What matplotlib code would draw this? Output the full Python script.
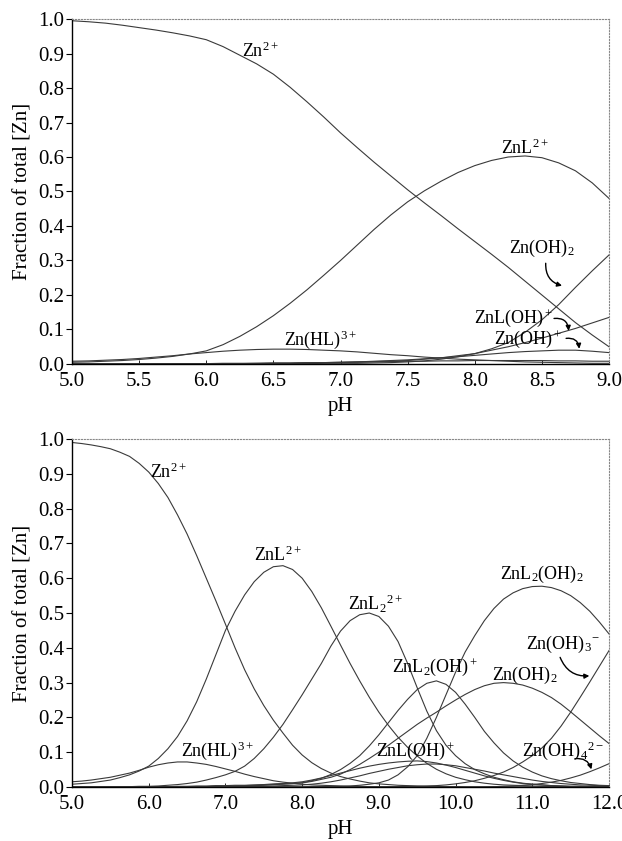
import numpy as np
import matplotlib
matplotlib.use('Agg')
import matplotlib.pyplot as plt

plt.rcParams['font.family'] = ['Liberation Serif', 'DejaVu Serif']
plt.rcParams['mathtext.fontset'] = 'custom'
plt.rcParams['mathtext.rm'] = 'Liberation Serif'
plt.rcParams['mathtext.it'] = 'Liberation Serif:italic'

# ---- top panel: pH 5 - 9, read every 0.125 pH ----
ph_a = np.arange(5.0, 9.001, 0.125)
a_zn = [.995, .992, .988, .982, .975, .968, .960, .951, .940, .920, .895, .870, .840, .802, .760, .716, .670,
        .627, .585, .545, .505, .467, .430, .392, .355, .318, .280, .240, .200, .160, .120, .084, .050]
a_znl = [.005, .006, .008, .010, .013, .017, .022, .029, .038, .056, .080, .108, .140, .176, .215, .257, .300,
         .345, .390, .432, .470, .502, .530, .555, .575, .590, .600, .603, .598, .583, .560, .525, .480]
a_znhl = [.008, .009, .011, .013, .016, .020, .024, .029, .033, .037, .040, .042, .043, .043, .042, .040, .038,
          .035, .031, .027, .024, .020, .017, .014, .012, .010, .008, .006, .005, .004, .003, .002, .002]
a_znoh2 = [0, 0, 0, 0, 0, 0, 0, 0, 0, 0, 0, .001, .001, .001, .001, .002, .002,
           .002, .003, .004, .006, .009, .014, .021, .030, .044, .062, .092, .128, .172, .222, .270, .316]
a_znloh = [0, 0, 0, 0, 0, 0, 0, .001, .001, .001, .001, .002, .002, .002, .003, .004, .005,
           .006, .007, .008, .010, .014, .018, .024, .030, .040, .050, .062, .075, .089, .103, .119, .135]
a_znoh = [0, 0, 0, 0, 0, .001, .001, .001, .001, .002, .002, .002, .003, .003, .004, .004, .005,
          .006, .008, .010, .012, .015, .018, .021, .025, .029, .033, .036, .038, .040, .040, .037, .033]
a_znl2 = [0, 0, 0, 0, 0, 0, 0, 0, 0, .001, .001, .001, .002, .002, .003, .003, .004,
          .005, .006, .007, .008, .008, .009, .009, .010, .010, .010, .010, .010, .009, .009, .008, .008]

# ---- bottom panel: pH 5 - 12, read every 0.125 pH ----
ph_b = np.arange(5.0, 12.001, 0.125)
b_zn = [.990, .987, .983, .978, .972, .962, .950, .930, .905, .872, .832, .782, .727, .665, .600, .535,
        .468, .400, .337, .282, .234, .192, .155, .120, .092, .070, .053, .040, .030, .023, .017, .012,
        .009, .007, .005, .004, .003, .002, .002, .001, .001, 0, 0, 0, 0, 0,
        0, 0, 0, 0, 0, 0, 0, 0, 0, 0, 0]
b_znl = [.008, .010, .012, .016, .020, .027, .035, .046, .060, .082, .110, .145, .190, .245, .310, .380,
         .450, .505, .552, .590, .617, .633, .636, .625, .600, .562, .515, .462, .408, .355, .305, .258,
         .215, .177, .143, .114, .089, .068, .051, .038, .028, .021, .015, .011, .008, .006,
         .005, .004, .003, .002, .002, .001, .001, 0, 0, 0, 0]
b_znhl = [.015, .017, .020, .024, .028, .034, .040, .048, .057, .064, .069, .072, .072, .069, .065, .059,
          .052, .045, .037, .030, .024, .018, .014, .011, .008, .006, .005, .004, .003, .002, .002, .001,
          .001, 0, 0, 0, 0, 0, 0, 0, 0, 0, 0, 0, 0, 0,
          0, 0, 0, 0, 0, 0, 0, 0, 0, 0, 0]
b_znl2 = [0, 0, 0, 0, .001, .001, .001, .002, .002, .003, .005, .007, .010, .014, .020, .027,
          .035, .045, .060, .082, .110, .143, .180, .222, .265, .310, .355, .405, .448, .478, .495, .500,
          .490, .462, .418, .355, .285, .218, .162, .120, .090, .067, .050, .038, .028, .021,
          .015, .011, .008, .006, .004, .003, .002, .002, .001, .001, 0]
b_znl2oh = [0, 0, 0, 0, 0, 0, 0, 0, 0, 0, 0, 0, 0, .001, .001, .002,
            .002, .003, .003, .004, .005, .007, .008, .010, .012, .018, .025, .036, .050, .068, .090, .118,
            .150, .185, .220, .252, .280, .298, .305, .295, .272, .238, .200, .160, .127, .098,
            .075, .057, .043, .032, .024, .018, .013, .010, .007, .005, .004]
b_znl2oh2 = [0, 0, 0, 0, 0, 0, 0, 0, 0, 0, 0, 0, 0, 0, 0, 0,
             0, 0, 0, 0, 0, 0, 0, 0, 0, .001, .001, .002, .002, .003, .005, .008,
             .012, .020, .035, .058, .090, .140, .200, .265, .330, .388, .435, .478, .513, .540,
             .558, .570, .576, .577, .573, .564, .550, .530, .505, .474, .440]
b_znoh2 = [0, 0, 0, 0, 0, 0, 0, 0, 0, 0, 0, 0, 0, .001, .001, .002,
           .002, .003, .004, .005, .006, .007, .009, .010, .012, .016, .022, .028, .037, .050, .065, .082,
           .100, .120, .140, .160, .180, .198, .215, .233, .250, .266, .280, .291, .298, .300,
           .298, .293, .284, .272, .257, .238, .216, .193, .170, .147, .125]
b_znoh3 = [0, 0, 0, 0, 0, 0, 0, 0, 0, 0, 0, 0, 0, 0, 0, 0,
           0, 0, 0, 0, 0, 0, 0, 0, 0, 0, 0, 0, 0, 0, 0, 0,
           0, .001, .001, .002, .002, .003, .004, .006, .009, .013, .018, .025, .033, .043,
           .056, .072, .090, .112, .140, .175, .215, .258, .302, .347, .392]
b_znoh4 = [0, 0, 0, 0, 0, 0, 0, 0, 0, 0, 0, 0, 0, 0, 0, 0,
           0, 0, 0, 0, 0, 0, 0, 0, 0, 0, 0, 0, 0, 0, 0, 0,
           0, 0, 0, 0, 0, 0, 0, 0, 0, 0, 0, 0, .001, .002,
           .003, .005, .007, .010, .014, .019, .026, .034, .044, .055, .067]
b_znloh = [0, 0, 0, 0, 0, 0, 0, 0, 0, .001, .001, .002, .002, .003, .003, .004,
           .004, .005, .005, .006, .007, .009, .010, .012, .015, .020, .026, .033, .040, .047, .054, .060,
           .065, .069, .072, .074, .075, .073, .069, .063, .056, .048, .040, .032, .025, .019,
           .014, .010, .008, .006, .004, .003, .002, .002, .001, .001, 0]
b_znoh = [0, 0, 0, 0, 0, 0, 0, 0, 0, 0, 0, 0, 0, 0, 0, 0,
          0, .001, .001, .002, .002, .003, .004, .005, .006, .008, .011, .015, .020, .026, .032, .039,
          .045, .051, .056, .061, .064, .066, .066, .064, .061, .056, .051, .046, .040, .035,
          .030, .025, .020, .016, .013, .010, .008, .006, .005, .004, .003]

LC = '#3a3a3a'
LW = 0.8
FS = 15
LFS = 13


def style(ax, xmax, xticks):
    ax.set_xlim(5.0, xmax)
    ax.set_ylim(0, 1.0)
    ax.set_xticks(xticks)
    ax.set_xticklabels(['%.1f' % t for t in xticks])
    yt = np.arange(0, 1.01, 0.1)
    ax.set_yticks(yt)
    ax.set_yticklabels(['%.1f' % t for t in yt])
    ax.tick_params(axis='y', direction='out', length=4, width=0.8, pad=1.5, labelsize=FS)
    ax.tick_params(axis='x', direction='in', length=3, width=0.6, pad=6, labelsize=FS)
    for s in ['left', 'bottom']:
        ax.spines[s].set_color('black')
        ax.spines[s].set_linewidth(1.0)
    for s in ['top', 'right']:
        ax.spines[s].set_color('#888888')
        ax.spines[s].set_linewidth(0.8)
        ax.spines[s].set_linestyle(':')
    ax.set_xlabel('pH', fontsize=FS, labelpad=4)
    ax.set_ylabel('Fraction of total [Zn]', fontsize=FS, labelpad=4)


def arrow(ax, xy, xytext, rad):
    ax.annotate('', xy=xy, xytext=xytext,
                arrowprops=dict(arrowstyle='-|>', color='black', lw=1.0,
                                mutation_scale=7,
                                connectionstyle='arc3,rad=%s' % rad))


fig = plt.figure(figsize=(6.22, 8.41), dpi=100)
ax1 = fig.add_axes([0.1158, 0.5672, 0.8633, 0.4102])
ax2 = fig.add_axes([0.1158, 0.0642, 0.8633, 0.4138])

for ys in [a_zn, a_znl, a_znhl, a_znoh2, a_znloh, a_znoh, a_znl2]:
    ax1.plot(ph_a, ys, color=LC, lw=LW)
style(ax1, 9.0, [5.0, 5.5, 6.0, 6.5, 7.0, 7.5, 8.0, 8.5, 9.0])

ax1.text(6.4, 0.905, r'Zn$^{2+}$', fontsize=LFS, ha='center', va='center')
ax1.text(8.37, 0.625, r'ZnL$^{2+}$', fontsize=LFS, ha='center', va='center')
ax1.text(6.85, 0.07, r'Zn(HL)$^{3+}$', fontsize=LFS, ha='center', va='center')
ax1.text(8.5, 0.335, r'Zn(OH)$_2$', fontsize=LFS, ha='center', va='center')
ax1.text(8.29, 0.133, r'ZnL(OH)$^+$', fontsize=LFS, ha='center', va='center')
ax1.text(8.4, 0.071, r'Zn(OH)$^+$', fontsize=LFS, ha='center', va='center')
arrow(ax1, (8.67, 0.225), (8.53, 0.30), 0.45)
arrow(ax1, (8.7, 0.088), (8.57, 0.131), -0.6)
arrow(ax1, (8.78, 0.036), (8.66, 0.073), -0.6)

for ys in [b_zn, b_znl, b_znhl, b_znl2, b_znl2oh, b_znl2oh2, b_znoh2, b_znoh3,
           b_znoh4, b_znloh, b_znoh]:
    ax2.plot(ph_b, ys, color=LC, lw=LW)
style(ax2, 12.0, [5.0, 6.0, 7.0, 8.0, 9.0, 10.0, 11.0, 12.0])

ax2.text(6.25, 0.905, r'Zn$^{2+}$', fontsize=LFS, ha='center', va='center')
ax2.text(7.68, 0.665, r'ZnL$^{2+}$', fontsize=LFS, ha='center', va='center')
ax2.text(8.95, 0.525, r'ZnL$_2$$^{2+}$', fontsize=LFS, ha='center', va='center')
ax2.text(11.12, 0.61, r'ZnL$_2$(OH)$_2$', fontsize=LFS, ha='center', va='center')
ax2.text(11.4, 0.41, r'Zn(OH)$_3$$^{-}$', fontsize=LFS, ha='center', va='center')
ax2.text(9.73, 0.345, r'ZnL$_2$(OH)$^+$', fontsize=LFS, ha='center', va='center')
ax2.text(10.9, 0.32, r'Zn(OH)$_2$', fontsize=LFS, ha='center', va='center')
ax2.text(6.9, 0.105, r'Zn(HL)$^{3+}$', fontsize=LFS, ha='center', va='center')
ax2.text(9.48, 0.103, r'ZnL(OH)$^+$', fontsize=LFS, ha='center', va='center')
ax2.text(11.4, 0.103, r'Zn(OH)$_4$$^{2-}$', fontsize=LFS, ha='center', va='center')
arrow(ax2, (11.78, 0.32), (11.35, 0.38), 0.4)
arrow(ax2, (11.78, 0.043), (11.52, 0.08), -0.5)

fig.savefig('out.png', dpi=100)
